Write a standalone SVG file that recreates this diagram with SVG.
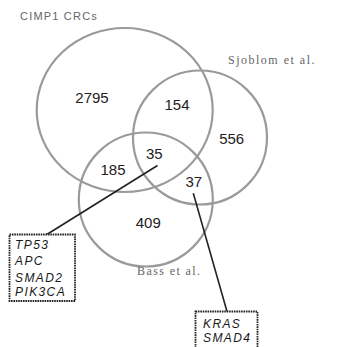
<svg xmlns="http://www.w3.org/2000/svg" width="341" height="347" viewBox="0 0 341 347">
<style>
.set{fill:none;stroke:#9a9a9a;stroke-width:2.2}
.num{font-family:"Liberation Sans",Arial,sans-serif;font-size:15px;fill:#222;text-anchor:middle}
.lab{font-family:"Liberation Sans",Arial,sans-serif;font-size:11px;fill:#666;letter-spacing:1.2px}
.slab{font-family:"Liberation Serif","Times New Roman",serif;font-size:12px;fill:#666;letter-spacing:1.5px}
.gene{font-family:"Liberation Sans",Arial,sans-serif;font-size:12px;font-style:italic;fill:#1a1a1a;letter-spacing:1.4px}
.box{fill:#fff;stroke:#222;stroke-width:1.8;stroke-dasharray:1.6 0.8}
.conn{stroke:#222;stroke-width:1.6;fill:none}
</style>
<rect width="341" height="347" fill="#fff"/>
<g id="set-cimp1">
<ellipse class="set" cx="124.7" cy="110" rx="88" ry="82"/>
<text class="lab" x="20" y="20">CIMP1 CRCs</text>
</g>
<g id="set-sjoblom">
<circle class="set" cx="200" cy="137.5" r="67"/>
<text class="slab" x="228" y="64">Sjoblom et al.</text>
</g>
<g id="set-bass">
<circle class="set" cx="145.8" cy="199.5" r="67"/>
<text class="slab" x="137" y="275" style="letter-spacing:1.4px">Bass et al.</text>
</g>
<g id="counts">
<text class="num" x="92" y="103">2795</text>
<text class="num" x="177" y="109.5">154</text>
<text class="num" x="231.7" y="144">556</text>
<text class="num" x="154.3" y="159">35</text>
<text class="num" x="113" y="175">185</text>
<text class="num" x="193.8" y="186.7">37</text>
<text class="num" x="148.3" y="228.3">409</text>
</g>
<g id="connectors">
<line class="conn" x1="157.5" y1="165.5" x2="46" y2="235"/>
<line class="conn" x1="193.3" y1="193.3" x2="227" y2="311.5"/>
</g>
<g id="box-genes-35">
<rect class="box" x="9.5" y="234.5" width="65.5" height="66.5"/>
<text class="gene" x="15" y="248.5">TP53</text>
<text class="gene" x="15" y="265">APC</text>
<text class="gene" x="15" y="281.5">SMAD2</text>
<text class="gene" x="15" y="296">PIK3CA</text>
</g>
<g id="box-genes-37">
<rect class="box" x="195.5" y="311.5" width="62" height="45"/>
<text class="gene" x="203" y="327.5">KRAS</text>
<text class="gene" x="203" y="342">SMAD4</text>
</g>
</svg>
